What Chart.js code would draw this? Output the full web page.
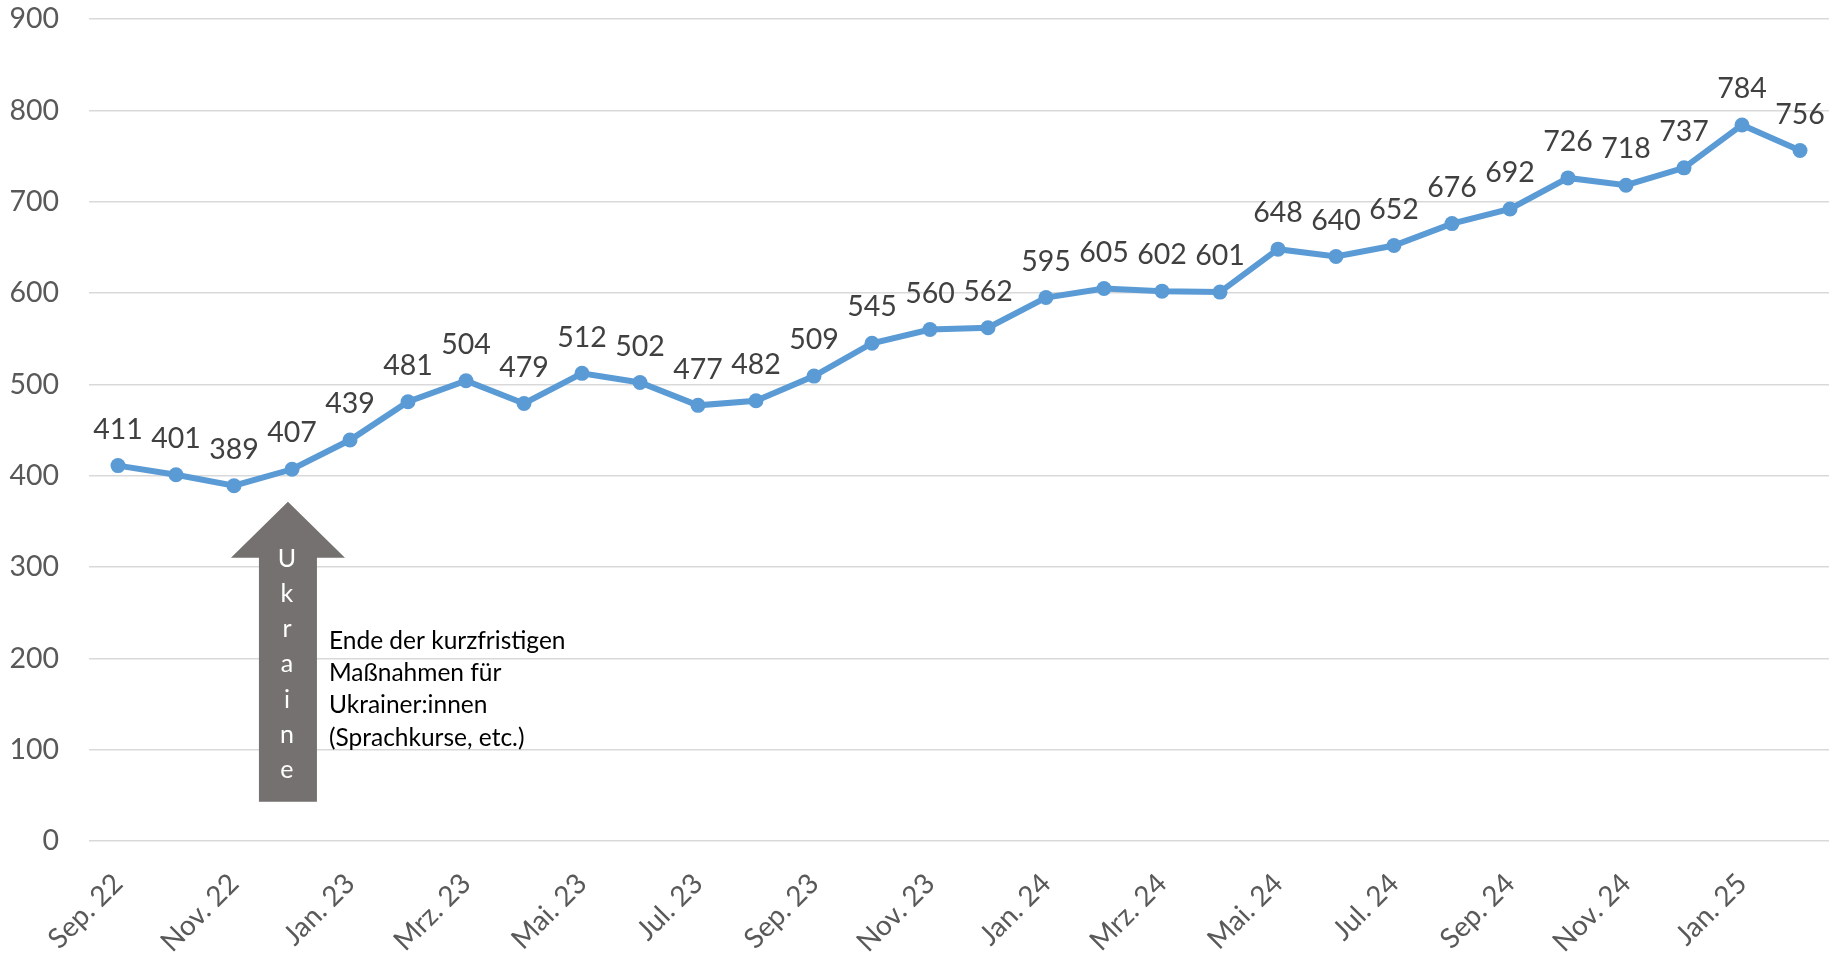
<!DOCTYPE html>
<html>
<head>
<meta charset="utf-8">
<script src="https://cdn.jsdelivr.net/npm/chart.js@4"></script>
<style>
  html, body { margin: 0; padding: 0; background: #fff; }
  #wrap { width: 1839px; height: 954px; }
</style>
</head>
<body>
<div id="wrap"><canvas id="chart" width="1839" height="954"></canvas></div>
<script>
// months Sep. 22 - Feb. 25
const months = ['Sep. 22', 'Okt. 22', 'Nov. 22', 'Dez. 22',
  'Jan. 23', 'Feb. 23', 'Mrz. 23', 'Apr. 23', 'Mai. 23', 'Jun. 23', 'Jul. 23', 'Aug. 23', 'Sep. 23', 'Okt. 23', 'Nov. 23', 'Dez. 23',
  'Jan. 24', 'Feb. 24', 'Mrz. 24', 'Apr. 24', 'Mai. 24', 'Jun. 24', 'Jul. 24', 'Aug. 24', 'Sep. 24', 'Okt. 24', 'Nov. 24', 'Dez. 24',
  'Jan. 25', 'Feb. 25'];
const values = [411, 401, 389, 407, 439, 481, 504, 479, 512, 502, 477, 482, 509, 545, 560, 562,
  595, 605, 602, 601, 648, 640, 652, 676, 692, 726, 718, 737, 784, 756];
const yTicks = [0, 100, 200, 300, 400, 500, 600, 700, 800, 900];

// annotation: arrow just left of Dez. 22, from ~43 up to ~372
const arrowAt = 2.93;
const arrowFrom = 43, arrowHead = 310, arrowTo = 371.5;
const arrowWord = 'Ukraine';
const noteLines = ['Ende der kurzfristigen', 'Maßnahmen für', 'Ukrainer:innen', '(Sprachkurse, etc.)'];

const FONT = 'Lato, "Open Sans", sans-serif';

//draw value labels above every point
const valueLabels = {
  id: 'valueLabels',
  afterDatasetsDraw(chart) {
    const ctx = chart.ctx;
    const meta = chart.getDatasetMeta(0);
    ctx.save();
    ctx.font = '28.5px ' + FONT;
    ctx.fillStyle = '#404040';
    ctx.textAlign = 'center';
    ctx.textBaseline = 'middle';
    meta.data.forEach((pt, i) => {
      ctx.fillText(String(values[i]), pt.x, pt.y - 36);
    });
    ctx.restore();
  }
};

//grey arrow with the note next to it
const arrowNote = {
  id: 'arrowNote',
  beforeDatasetsDraw(chart) {
    const ctx = chart.ctx;
    const x = chart.scales.x.getPixelForValue(arrowAt);
    const y = chart.scales.y;
    const yTip = y.getPixelForValue(arrowTo);
    const yHead = y.getPixelForValue(arrowHead);
    const yBot = y.getPixelForValue(arrowFrom);
    ctx.save();
    ctx.fillStyle = '#767171';
    ctx.beginPath();
    ctx.moveTo(x, yTip);
    ctx.lineTo(x + 57, yHead);
    ctx.lineTo(x + 29, yHead);
    ctx.lineTo(x + 29, yBot);
    ctx.lineTo(x - 29, yBot);
    ctx.lineTo(x - 29, yHead);
    ctx.lineTo(x - 57, yHead);
    ctx.closePath();
    ctx.fill();

    ctx.fillStyle = '#ffffff';
    ctx.font = '25px ' + FONT;
    ctx.textAlign = 'center';
    ctx.textBaseline = 'alphabetic';
    arrowWord.split('').forEach((ch, i) => {
      ctx.fillText(ch, x - 1, yHead + 9 + i * 35.2);
    });

    ctx.fillStyle = '#000000';
    ctx.font = '24.5px ' + FONT;
    ctx.textAlign = 'left';
    ctx.textBaseline = 'alphabetic';
    noteLines.forEach((line, i) => {
      ctx.fillText(line, x + 41, yHead + 91 + i * 32.3);
    });
    ctx.restore();
  }
};

const chart = new Chart(document.getElementById('chart').getContext('2d'), {
  type: 'line',
  data: {
    labels: months,
    datasets: [{
      data: values,
      borderColor: '#5B9BD5',
      backgroundColor: '#5B9BD5',
      borderWidth: 6,
      pointRadius: 7.5,
      pointHoverRadius: 7.5,
      pointBorderWidth: 0,
      tension: 0
    }]
  },
  options: {
    responsive: false,
    animation: false,
    layout: { padding: { top: 19, right: 10, left: 0, bottom: 0 } },
    plugins: {
      legend: { display: false },
      tooltip: { enabled: false }
    },
    scales: {
      x: {
        offset: true,
        grid: { display: false, drawTicks: false },
        border: { display: false },
        ticks: {
          autoSkip: false,
          minRotation: 45,
          maxRotation: 45,
          padding: 26,
          color: '#595959',
          font: { family: FONT, size: 28 },
          callback: (v, i) => (i % 2 === 0 ? months[i] : '')
        },
        afterFit(scale) {
          scale.height = 113;
          scale.paddingLeft = 0;
          scale.paddingRight = 0;
        }
      },
      y: {
        min: 0,
        max: 900,
        afterBuildTicks(scale) { scale.ticks = yTicks.map(v => ({ value: v })); },
        grid: { color: '#D9D9D9', lineWidth: 1.5, drawTicks: false },
        border: { display: false },
        ticks: {
          padding: 30,
          color: '#595959',
          font: { family: FONT, size: 28.5 }
        },
        afterFit(scale) {
          scale.width = 89;
          scale.paddingTop = 0;
          scale.paddingBottom = 0;
        }
      }
    }
  },
  plugins: [arrowNote, valueLabels]
});
</script>
</body>
</html>
